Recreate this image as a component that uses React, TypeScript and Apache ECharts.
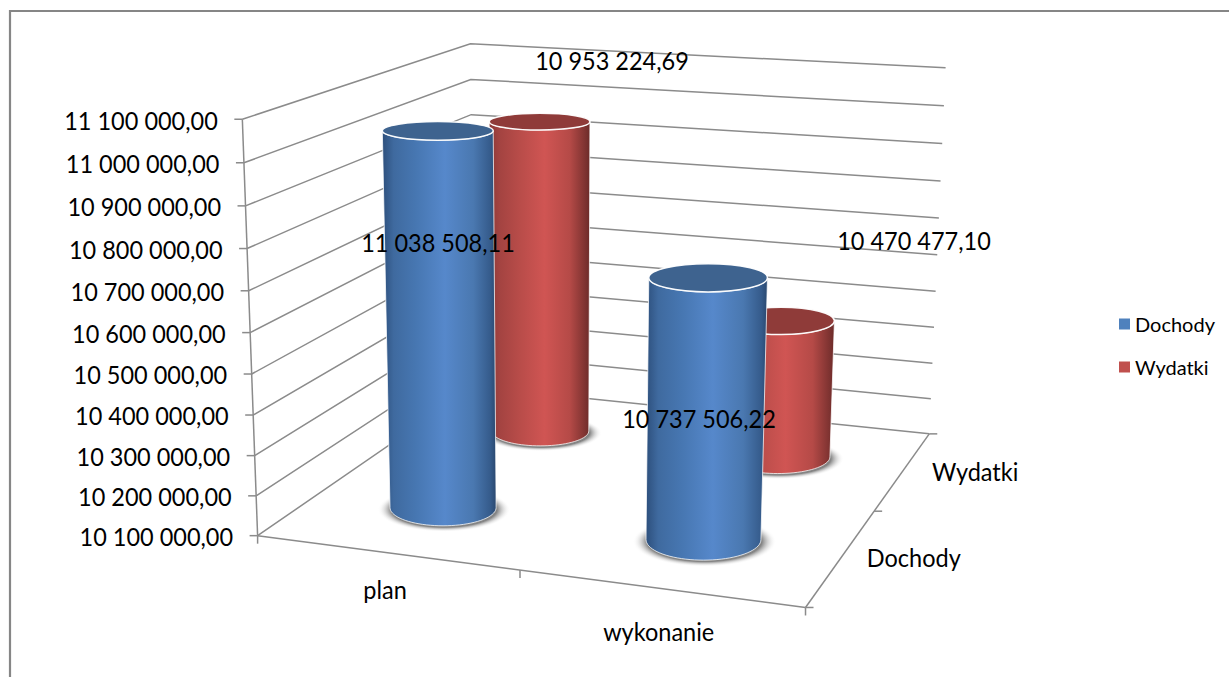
import React, { useEffect, useRef } from "react";
import * as echarts from "echarts";

const categories = ["plan", "wykonanie"];
const seriesNames = ["Dochody", "Wydatki"];
const dochodyValues = [11038508.11, 10737506.22];
const wydatkiValues = [10953224.69, 10470477.1];
const yTicks = [10100000, 10200000, 10300000, 10400000, 10500000, 10600000, 10700000, 10800000, 10900000, 11000000, 11100000];

const FONT = "Lato";
const AXIS_FS = 25;
const TEXT_SQUEEZE = 0.94;
const LINE = "#8b8b8b";

// Screen calibration of the 3D box: u (categories), v (depth), w (value) -> pixels
const calibration = [
  [0, 0, 0, 259.5, 536], [0, 0, 1, 241, 119], [0, 0, 0.5, 250, 332],
  [1, 0, 0, 805, 608],
  [0, 1, 0, 472, 387], [0, 1, 1, 472, 44],
  [1, 1, 0, 930, 433], [1, 1, 1, 945, 68], [1, 1, 0.5, 937.5, 255],
];

function solve(A: number[][], b: number[]) {
  const n = b.length;
  const M = A.map((r, i) => [...r, b[i]]);
  for (let c = 0; c < n; c++) {
    let p = c;
    for (let r = c + 1; r < n; r++) if (Math.abs(M[r][c]) > Math.abs(M[p][c])) p = r;
    [M[c], M[p]] = [M[p], M[c]];
    for (let r = 0; r < n; r++) {
      if (r === c) continue;
      const f = M[r][c] / M[c][c];
      for (let k = c; k <= n; k++) M[r][k] -= f * M[c][k];
    }
  }
  return M.map((r, i) => r[n] / r[i]);
}

function fitCamera() {
  const rows: number[][] = [];
  const rhs: number[] = [];
  calibration.forEach(([u, v, w, x, y]) => {
    const X = x / 1000, Y = y / 1000;
    rows.push([u, v, w, 1, 0, 0, 0, 0, -X * u, -X * v, -X * w]); rhs.push(X);
    rows.push([0, 0, 0, 0, u, v, w, 1, -Y * u, -Y * v, -Y * w]); rhs.push(Y);
  });
  const n = 11;
  const A = Array.from({ length: n }, (_, i) => Array.from({ length: n }, (_, j) => rows.reduce((s, r) => s + r[i] * r[j], 0)));
  const b = Array.from({ length: n }, (_, i) => rows.reduce((s, r, k) => s + r[i] * rhs[k], 0));
  return solve(A, b);
}
const cam = fitCamera();
function project(u: number, v: number, w: number): [number, number] {
  const d = cam[8] * u + cam[9] * v + cam[10] * w + 1;
  return [
    (1000 * (cam[0] * u + cam[1] * v + cam[2] * w + cam[3])) / d,
    (1000 * (cam[4] * u + cam[5] * v + cam[6] * w + cam[7])) / d,
  ];
}

function norm(params: any, api: any, cat: number, val: number) {
  const p = api.coord([cat, val]);
  const s = params.coordSys;
  return { u: (p[0] - s.x) / s.width, w: 1 - (p[1] - s.y) / s.height };
}

function formatPl(n: number) {
  const [i, d] = n.toFixed(2).split(".");
  return i.replace(/\B(?=(\d{3})+$)/g, " ") + "," + d;
}

const lineEl = (a: number[], b: number[], extra: any = {}) => ({
  type: "line",
  shape: { x1: a[0], y1: a[1], x2: b[0], y2: b[1] },
  style: { stroke: LINE, lineWidth: 1.5, ...extra },
  silent: true,
});
const textEl = (text: string, x: number, y: number, align = "center", size = AXIS_FS) => ({
  type: "text",
  x,
  y,
  scaleX: TEXT_SQUEEZE,
  silent: true,
  style: { text, fontFamily: FONT, fontSize: size, fill: "#000", align, verticalAlign: "middle" },
});

function renderGrid(params: any, api: any) {
  const { w } = norm(params, api, 0, api.value(1));
  const a = project(0, 0, w), b = project(0, 1, w), c = project(1, 1, w);
  return {
    type: "group",
    children: [
      { type: "polyline", shape: { points: [a, b, c] }, style: { stroke: LINE, lineWidth: 1.5, fill: "none" }, silent: true },
      lineEl([a[0] - 8, a[1]], a),
      textEl(formatPl(api.value(1)), a[0] - 24.5, a[1] + 0.5, "right"),
    ],
  };
}

function renderFloor(params: any, api: any) {
  const children: any[] = [];
  if (params.dataIndex === 0) {
    const fl = project(0, 0, 0), fr = project(1, 0, 0), br = project(1, 1, 0), mid = project(0.5, 0, 0);
    const top = project(0, 0, 1);
    children.push(lineEl(fl, top), lineEl(fl, fr), lineEl(fr, br));
    [fl, mid, fr].forEach((p) => children.push(lineEl(p, [p[0], p[1] + 8])));
    [fr, project(1, 0.5, 0), br].forEach((p) => children.push(lineEl(p, [p[0] + 8, p[1]])));
    seriesNames.forEach((n, i) => {
      const p = project(1, (i + 0.5) / seriesNames.length, 0);
      children.push(textEl(n, p[0] + 72, p[1] + 1));
    });
  }
  const { u } = norm(params, api, api.value(0), yTicks[0]);
  const p = project(u, 0, 0);
  children.push(textEl(categories[api.value(0)], p[0] - 1, p[1] + 37 + (u - 0.25) * 12));
  return { type: "group", children };
}

const bodyStops = (c: string[]) =>
  [0, 0.1, 0.3, 0.55, 0.8, 0.95, 1].map((offset, i) => ({ offset, color: c[i] }));
const palettes: Record<string, any> = {
  Dochody: { body: ["#2d4f7c", "#3f6a9f", "#4777b2", "#5688cb", "#4a78b0", "#355b8b", "#2a486f"], top: "#3e638f", base: "#4f81bd" },
  Wydatki: { body: ["#8a3836", "#a34341", "#b84c49", "#d05553", "#b54a47", "#7f3331", "#6b2b29"], top: "#8f3b39", base: "#c0504d" },
};

const ellipseRatio = (y: number) => 0.11 + y * 0.00046;

function makeCylinder(name: string) {
  const depth = (seriesNames.indexOf(name) + 0.5) / seriesNames.length;
  const pal = palettes[name];
  return (params: any, api: any) => {
    const cat = api.value(0);
    const { u, w } = norm(params, api, cat, api.value(1));
    const du = 0.106;
    const bc = project(u, depth, 0), tc = project(u, depth, w);
    const brx = (project(u + du, depth, 0)[0] - project(u - du, depth, 0)[0]) / 2;
    const trx = (project(u + du, depth, w)[0] - project(u - du, depth, w)[0]) / 2;
    const bry = brx * ellipseRatio(bc[1]);
    const tryy = trx * ellipseRatio(tc[1]);
    const pts: number[][] = [];
    for (let i = 0; i <= 40; i++) {
      const t = (i / 40) * Math.PI;
      pts.push([tc[0] + trx * Math.cos(Math.PI - t), tc[1] + tryy * Math.sin(t)]);
    }
    for (let i = 0; i <= 40; i++) {
      const t = (i / 40) * Math.PI;
      pts.push([bc[0] + brx * Math.cos(t), bc[1] + bry * Math.sin(t)]);
    }
    return {
      type: "group",
      silent: true,
      children: [
        {
          type: "ellipse",
          shape: { cx: bc[0] + 1, cy: bc[1] + 2, rx: brx * 1.25, ry: bry * 1.22 },
          style: {
            fill: new echarts.graphic.RadialGradient(0.5, 0.5, 0.5, [
              { offset: 0, color: "#707070" }, { offset: 0.8, color: "#858585" }, { offset: 1, color: "rgba(255,255,255,0)" },
            ]),
          },
        },
        {
          type: "polygon",
          shape: { points: pts },
          style: {
            fill: new echarts.graphic.LinearGradient(0, 0, 1, 0, bodyStops(pal.body)),
            stroke: "rgba(255,255,255,0.75)",
            lineWidth: 1,
          },
        },
        {
          type: "ellipse",
          shape: { cx: tc[0], cy: tc[1], rx: trx, ry: tryy },
          style: { fill: pal.top, stroke: "rgba(255,255,255,0.95)", lineWidth: 1.5 },
        },
      ],
    };
  };
}

const labelSpots: Record<string, number[][]> = {
  Dochody: [[438, 242], [699, 418]],
  Wydatki: [[612, 60], [914, 240]],
};

export default function App() {
  const ref = useRef<HTMLDivElement>(null);
  useEffect(() => {
    const chart = echarts.init(ref.current!, undefined, { renderer: "svg" });
    const barData = (vals: number[]) => vals.map((v, i) => [i, v]);
    chart.setOption({
      animation: false,
      backgroundColor: "#fff",
      textStyle: { fontFamily: FONT },
      grid: { left: 100, top: 100, width: 800, height: 400, show: false },
      xAxis: { type: "category", data: categories, show: false },
      yAxis: { type: "value", min: 10100000, max: 11100000, interval: 100000, show: false },
      legend: {
        orient: "vertical",
        left: 1114,
        top: 309,
        itemWidth: 11,
        itemHeight: 11,
        itemGap: 23,
        data: seriesNames.map((name) => ({ name, icon: "rect" })),
        textStyle: { fontFamily: FONT, fontSize: 20, color: "#000" },
        selectedMode: false,
      },
      graphic: [
        {
          type: "rect",
          silent: true,
          z: -10,
          shape: { x: 10, y: 11, width: 1260, height: 700 },
          style: { fill: "none", stroke: "#868686", lineWidth: 2.2 },
        },
      ],
      series: [
        { type: "custom", name: "grid", z: 2, clip: false, silent: true, data: yTicks.map((v) => [0, v]), encode: { x: 0, y: 1 }, renderItem: renderGrid },
        { type: "custom", name: "floor", z: 2, clip: false, silent: true, data: categories.map((_, i) => [i, yTicks[0]]), encode: { x: 0, y: 1 }, renderItem: renderFloor },
        { type: "custom", name: "Wydatki", z: 3, clip: false, silent: true, itemStyle: { color: palettes.Wydatki.base }, data: barData(wydatkiValues), encode: { x: 0, y: 1 }, renderItem: makeCylinder("Wydatki") },
        { type: "custom", name: "Dochody", z: 4, clip: false, silent: true, itemStyle: { color: palettes.Dochody.base }, data: barData(dochodyValues), encode: { x: 0, y: 1 }, renderItem: makeCylinder("Dochody") },
        ...seriesNames.map((name) => ({
          type: "custom",
          name: name + " labels",
          z: 6,
          clip: false,
          silent: true,
          data: barData(name === "Dochody" ? dochodyValues : wydatkiValues),
          encode: { x: 0, y: 1 },
          renderItem: (_: any, api: any) => {
            const s = labelSpots[name][api.value(0)];
            return textEl(formatPl(api.value(1)), s[0], s[1]);
          },
        })),
      ],
    });
    return () => chart.dispose();
  }, []);
  return <div ref={ref} style={{ position: "fixed", left: 0, top: 0, width: 1229, height: 677, overflow: "hidden" }} />;
}
